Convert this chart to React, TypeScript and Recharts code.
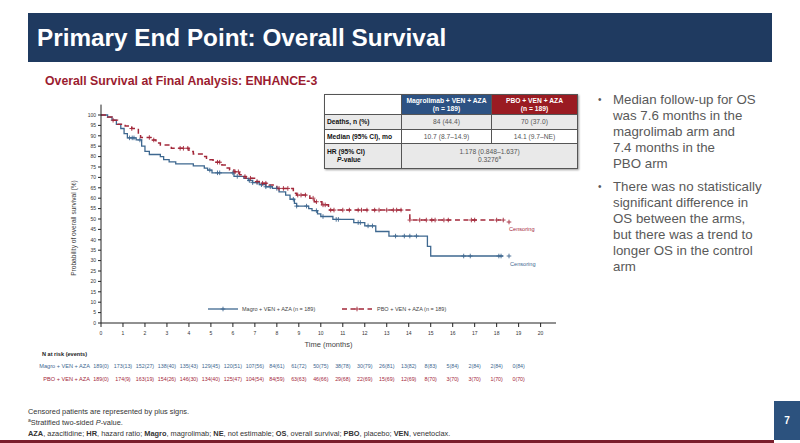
import { ComposedChart, Line, Scatter, XAxis, YAxis } from "recharts"

const monthTicks = [0, 1, 2, 3, 4, 5, 6, 7, 8, 9, 10, 11, 12, 13, 14, 15, 16, 17, 18, 19, 20]
const riskMonths = [0, 1, 2, 3, 4, 5, 6, 7, 8, 9, 10, 11, 12, 13, 14, 15, 16, 17, 18, 19]
const pctTicks = [0, 5, 10, 15, 20, 25, 30, 35, 40, 45, 50, 55, 60, 65, 70, 75, 80, 85, 90, 95, 100]

// Kaplan-Meier steps: [month, survival %]
const magroSteps: [number, number][] = [
  [0, 100], [0.3, 99], [0.5, 97.5], [0.7, 95.5], [0.9, 93.5], [1.05, 91], [1.2, 89], [1.6, 88],
  [1.85, 85], [2.0, 82.5], [2.2, 81], [2.7, 80], [2.85, 78.5], [3.1, 77.5], [3.4, 76.5], [4.2, 75.5],
  [4.7, 74.5], [4.85, 73.5], [5.05, 72.2], [6.05, 70.5], [6.5, 69.5], [6.7, 68.5], [6.9, 67.5],
  [7.2, 66.5], [7.5, 65.5], [7.8, 64.7], [8.1, 63], [8.4, 61.5], [8.6, 59.5], [8.8, 57.5], [8.9, 56.2],
  [9.45, 55], [9.6, 54], [9.85, 52.5], [10.0, 51.2], [10.55, 49.8], [11.5, 48.3], [12.0, 46.7],
  [12.5, 44], [13.1, 41.8], [14.85, 36.8], [15.0, 32.2], [18.3, 32.2],
]

const pboSteps: [number, number][] = [
  [0, 100], [0.3, 99], [0.5, 97.5], [0.75, 95.5], [1.1, 94.7], [1.4, 93.5], [1.7, 91], [1.8, 89.2],
  [2.35, 88], [2.5, 86.5], [2.7, 85.6], [3.2, 84], [4.0, 82.5], [4.2, 81.2], [4.65, 80], [4.8, 78.5],
  [5.1, 77.3], [5.5, 76], [5.65, 74.5], [5.85, 73.6], [6.05, 72.7], [6.3, 71.3], [6.5, 70.4],
  [6.6, 69.6], [7.05, 68], [7.2, 67.2], [7.65, 66.3], [8.0, 64.7], [8.75, 62.4], [8.9, 61.5],
  [9.5, 60], [9.7, 58.3], [10.05, 56.8], [10.35, 54.3], [14.05, 49.5], [18.2, 49.5],
]

// censoring times (months)
const magroCensored = [
  1.3, 1.42, 1.5, 1.77, 4.95, 5.3, 5.4, 6.0, 6.2, 6.75, 6.9, 7.1, 7.3, 7.5, 7.7, 8.0, 8.75, 8.9,
  9.35, 9.8, 10.1, 10.7, 10.8, 11.7, 11.8, 12.15, 12.35, 13.4, 13.8, 14.05, 14.35, 16.5, 16.8, 18.1, 18.2,
]
const pboCensored = [
  0.55, 1.4, 2.2, 2.4, 3.6, 3.75, 3.95, 5.3, 5.4, 6.1, 6.25, 6.55, 6.8, 7.1, 7.35, 7.5, 8.1, 8.3, 8.5,
  8.95, 9.1, 9.3, 9.65, 9.8, 10.1, 10.2, 10.45, 10.6, 11.0, 11.3, 11.7, 11.85, 12.1, 12.45, 12.65,
  13.0, 13.3, 13.45, 13.65, 14.05, 14.5, 14.8, 15.05, 15.2, 15.6, 15.8, 16.85, 17.0, 18.0, 18.3,
]

const magroAtRisk = [
  "189(0)", "173(13)", "152(27)", "138(40)", "135(43)", "129(45)", "120(51)", "107(56)", "84(61)", "61(72)",
  "50(75)", "38(78)", "30(79)", "26(81)", "13(82)", "8(83)", "5(84)", "2(84)", "2(84)", "0(84)",
]
const pboAtRisk = [
  "189(0)", "174(9)", "163(19)", "154(26)", "146(30)", "134(40)", "125(47)", "104(54)", "84(59)", "63(63)",
  "46(66)", "29(68)", "22(69)", "15(69)", "12(69)", "8(70)", "3(70)", "3(70)", "1(70)", "0(70)",
]

const BLUE = "#3e6890"
const RED = "#a3283a"
const FONT = "'Liberation Sans', Arial, sans-serif"
const X_DOMAIN = [0, 20.7]

const toPoints = (steps: [number, number][]) => steps.map(([t, s]) => ({ t, s }))

const survAt = (steps: [number, number][], t: number) => {
  let s = 100
  for (const [tt, ss] of steps) if (tt <= t) s = ss
  return s
}

const censorPoints = (steps: [number, number][], times: number[]) =>
  times.map((t) => ({ t, s: survAt(steps, t) }))

// rows of the at-risk table: row 2 = magrolimab arm, row 1 = placebo arm
const riskRows = [
  ...riskMonths.map((t, i) => ({ t, row: 2, label: magroAtRisk[i], color: BLUE })),
  ...riskMonths.map((t, i) => ({ t, row: 1, label: pboAtRisk[i], color: RED })),
]

const plusShape = (color: string) => (props: any) => {
  const { cx, cy } = props
  return (
    <path
      d={`M${cx - 2.3},${cy}h4.6M${cx},${cy - 2.3}v4.6`}
      stroke={color}
      strokeWidth={0.9}
      fill="none"
    />
  )
}

const riskLabel = (props: any) => {
  const { cx, cy, payload } = props
  return (
    <text x={cx} y={cy} dy="0.35em" textAnchor="middle" fontSize={5.3} fill={payload.color} fontFamily={FONT}>
      {payload.label}
    </text>
  )
}

function SurvivalChart() {
  return (
    <ComposedChart
      width={800}
      height={443}
      margin={{ top: 104.6, right: 244, bottom: 77, left: 0 }}
      style={{ position: "absolute", left: 0, top: 0, fontFamily: FONT }}
    >
      <XAxis
        type="number"
        dataKey="t"
        domain={X_DOMAIN}
        ticks={monthTicks}
        interval={0}
        allowDataOverflow
        height={43}
        tickSize={4}
        tickMargin={4}
        stroke="#222"
        tick={{ fontSize: 5, fill: "#333" }}
        label={{ value: "Time (months)", position: "insideTop", offset: 19, fontSize: 7.5, fill: "#444" }}
      />
      <YAxis
        type="number"
        dataKey="s"
        domain={[0, 105]}
        ticks={pctTicks}
        interval={0}
        allowDataOverflow
        width={101}
        tickSize={3}
        tickMargin={2}
        stroke="#222"
        tick={{ fontSize: 5, fill: "#333" }}
      />
      <Line
        data={toPoints(magroSteps)}
        dataKey="s"
        type="stepAfter"
        stroke={BLUE}
        strokeWidth={1.3}
        dot={false}
        activeDot={false}
        isAnimationActive={false}
      />
      <Line
        data={toPoints(pboSteps)}
        dataKey="s"
        type="stepAfter"
        stroke={RED}
        strokeWidth={1.5}
        strokeDasharray="5 3.5"
        dot={false}
        activeDot={false}
        isAnimationActive={false}
      />
      <Scatter
        data={censorPoints(magroSteps, magroCensored)}
        dataKey="s"
        shape={plusShape(BLUE)}
        isAnimationActive={false}
      />
      <Scatter
        data={censorPoints(pboSteps, pboCensored)}
        dataKey="s"
        shape={plusShape(RED)}
        isAnimationActive={false}
      />
    </ComposedChart>
  )
}

// number at risk, on the same month scale as the survival plot
function AtRiskTable() {
  return (
    <ComposedChart
      width={800}
      height={39}
      margin={{ top: 0, right: 244, bottom: 0, left: 101 }}
      style={{ position: "absolute", left: 0, top: 353 }}
    >
      <XAxis type="number" dataKey="t" domain={X_DOMAIN} hide />
      <YAxis type="number" dataKey="row" domain={[0, 3]} hide />
      <Scatter data={riskRows} dataKey="row" shape={riskLabel} isAnimationActive={false} />
    </ComposedChart>
  )
}

const cell: React.CSSProperties = {
  border: "1px solid #555",
  padding: 0,
  textAlign: "center",
  verticalAlign: "middle",
}

const rowHead: React.CSSProperties = {
  ...cell,
  textAlign: "left",
  paddingLeft: 2,
  fontWeight: 700,
  color: "#111",
}

export default function App() {
  return (
    <div
      style={{
        position: "fixed",
        left: 0,
        top: 0,
        width: 800,
        height: 443,
        background: "#fff",
        overflow: "hidden",
        fontFamily: FONT,
      }}
    >
      {/* title band */}
      <div
        style={{
          position: "absolute",
          left: 28,
          top: 13,
          width: 744,
          height: 49,
          background: "#1f3a60",
          color: "#fff",
          fontWeight: 700,
          fontSize: 24.3,
          lineHeight: "49px",
          paddingLeft: 9,
          boxSizing: "border-box",
        }}
      >
        Primary End Point: Overall Survival
      </div>
      <div
        style={{
          position: "absolute",
          left: 45,
          top: 73,
          fontSize: 12.3,
          lineHeight: "16px",
          fontWeight: 700,
          color: "#9b1c30",
        }}
      >
        Overall Survival at Final Analysis: ENHANCE-3
      </div>

      <SurvivalChart />
      <AtRiskTable />

      {/* y axis title */}
      <div
        style={{
          position: "absolute",
          left: 73,
          top: 228,
          transform: "translate(-50%, -50%) rotate(-90deg)",
          fontSize: 6.6,
          color: "#444",
          whiteSpace: "nowrap",
        }}
      >
        Probability of overall survival (%)
      </div>

      {/* legend */}
      <svg style={{ position: "absolute", left: 200, top: 303 }} width={260} height={12}>
        <line x1={8} x2={38} y1={6} y2={6} stroke={BLUE} strokeWidth={1.3} />
        <path d="M23,3.7v4.6M20.7,6h4.6" stroke={BLUE} strokeWidth={0.9} />
        <text x={42} y={6} dy="0.35em" fontSize={5.5} fill="#444" fontFamily={FONT}>
          Magro + VEN + AZA (n = 189)
        </text>
        <line x1={142} x2={172} y1={6} y2={6} stroke={RED} strokeWidth={1.5} strokeDasharray="5 3.5" />
        <path d="M157,3.7v4.6M154.7,6h4.6" stroke={RED} strokeWidth={0.9} />
        <text x={177} y={6} dy="0.35em" fontSize={5.5} fill="#444" fontFamily={FONT}>
          PBO + VEN + AZA (n = 189)
        </text>
      </svg>

      {/* censoring notes */}
      <svg style={{ position: "absolute", left: 500, top: 214 }} width={50} height={56}>
        <path d="M9,5.7v4.6M6.7,8h4.6" stroke={RED} strokeWidth={0.9} />
        <text x={9} y={15.5} dy="0.35em" fontSize={5.6} fill={RED} fontFamily={FONT}>
          Censoring
        </text>
        <path d="M9,39.7v4.6M6.7,42h4.6" stroke={BLUE} strokeWidth={0.9} />
        <text x={10} y={50} dy="0.35em" fontSize={5.6} fill={BLUE} fontFamily={FONT}>
          Censoring
        </text>
      </svg>

      {/* results table */}
      <table
        style={{
          position: "absolute",
          left: 324,
          top: 94,
          width: 254,
          borderCollapse: "collapse",
          fontSize: 6.7,
          lineHeight: "8px",
          boxShadow: "1px 1px 2px rgba(0,0,0,0.4)",
        }}
      >
        <tbody>
          <tr style={{ height: 20 }}>
            <td style={{ ...cell, width: 76, background: "#fff" }} />
            <td style={{ ...cell, width: 89, background: "#2d5283", color: "#fff", fontWeight: 700 }}>
              Magrolimab + VEN + AZA
              <br />
              (n = 189)
            </td>
            <td style={{ ...cell, background: "#9a1b22", color: "#fff", fontWeight: 700 }}>
              PBO + VEN + AZA
              <br />
              (n = 189)
            </td>
          </tr>
          <tr style={{ height: 15, background: "#e9e9e9" }}>
            <td style={rowHead}>Deaths, n (%)</td>
            <td style={{ ...cell, color: "#555" }}>84 (44.4)</td>
            <td style={{ ...cell, color: "#555" }}>70 (37.0)</td>
          </tr>
          <tr style={{ height: 14, background: "#fff" }}>
            <td style={rowHead}>Median (95% CI), mo</td>
            <td style={{ ...cell, color: "#555" }}>10.7 (8.7–14.9)</td>
            <td style={{ ...cell, color: "#555" }}>14.1 (9.7–NE)</td>
          </tr>
          <tr style={{ height: 25, background: "#e9e9e9" }}>
            <td style={rowHead}>
              HR (95% CI)
              <br />
              <span style={{ paddingLeft: 10, fontStyle: "italic" }}>P</span>-value
            </td>
            <td colSpan={2} style={{ ...cell, color: "#555" }}>
              1.178 (0.848–1.637)
              <br />
              0.3276
              <sup style={{ fontSize: 4.5, lineHeight: 0 }}>a</sup>
            </td>
          </tr>
        </tbody>
      </table>

      {/* bullets */}
      <div style={{ position: "absolute", left: 598, top: 92, fontSize: 13.3, lineHeight: "16px", color: "#595959" }}>
        <div style={{ display: "flex" }}>
          <span style={{ width: 15, fontSize: 10 }}>•</span>
          <span>
            Median follow-up for OS
            <br />
            was 7.6 months in the
            <br />
            magrolimab arm and
            <br />
            7.4 months in the
            <br />
            PBO arm
          </span>
        </div>
        <div style={{ display: "flex", marginTop: 7 }}>
          <span style={{ width: 15, fontSize: 10 }}>•</span>
          <span>
            There was no statistically
            <br />
            significant difference in
            <br />
            OS between the arms,
            <br />
            but there was a trend to
            <br />
            longer OS in the control
            <br />
            arm
          </span>
        </div>
      </div>

      {/* number at risk labels */}
      <div style={{ position: "absolute", left: 42, top: 351, fontSize: 5.6, fontWeight: 700, color: "#222" }}>
        N at risk (events)
      </div>
      <div
        style={{
          position: "absolute",
          right: 710,
          top: 366,
          transform: "translateY(-50%)",
          fontSize: 5.6,
          color: BLUE,
          whiteSpace: "nowrap",
        }}
      >
        Magro + VEN + AZA
      </div>
      <div
        style={{
          position: "absolute",
          right: 710,
          top: 379,
          transform: "translateY(-50%)",
          fontSize: 5.6,
          color: RED,
          whiteSpace: "nowrap",
        }}
      >
        PBO + VEN + AZA
      </div>

      {/* footnotes */}
      <div style={{ position: "absolute", left: 28, top: 406, fontSize: 7.4, lineHeight: "11px", color: "#333" }}>
        <div>Censored patients are represented by plus signs.</div>
        <div>
          <sup style={{ fontSize: 5, lineHeight: 0 }}>a</sup>Stratified two-sided <i>P</i>-value.
        </div>
        <div>
          <b>AZA</b>, azacitidine; <b>HR</b>, hazard ratio; <b>Magro</b>, magrolimab; <b>NE</b>, not estimable;{" "}
          <b>OS</b>, overall survival; <b>PBO</b>, placebo; <b>VEN</b>, venetoclax.
        </div>
      </div>

      {/* page number and bottom rule */}
      <div style={{ position: "absolute", left: 0, top: 440, width: 774, height: 3, background: "#7a1d2c" }} />
      <div
        style={{
          position: "absolute",
          left: 774,
          top: 401,
          width: 26,
          height: 39,
          background: "#2c527e",
          color: "#fff",
          fontSize: 10,
          fontWeight: 700,
          lineHeight: "39px",
          textAlign: "center",
        }}
      >
        7
      </div>
    </div>
  )
}
